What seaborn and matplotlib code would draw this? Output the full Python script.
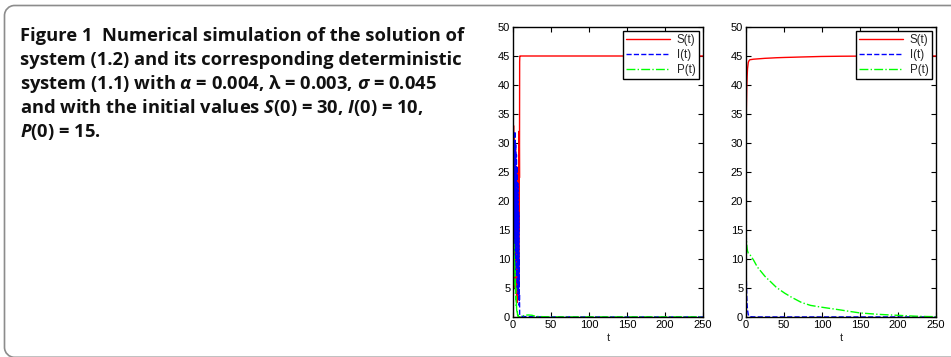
import matplotlib
matplotlib.use("Agg")
import matplotlib.pyplot as plt
import matplotlib.patches as mpatches
from matplotlib.path import Path
from matplotlib.transforms import IdentityTransform
import seaborn as sns

# left panel: stochastic system (1.2)
t_sto = [0, 0.25, 0.5, 0.75, 1.0, 1.25, 1.5, 1.75, 2.0, 2.25, 2.5, 2.75, 3.0,
         3.25, 3.5, 3.75, 4.0, 4.25, 4.5, 4.75, 5.0, 5.25, 5.5, 5.75, 6.0,
         6.25, 6.5, 6.75, 7.0, 7.25, 7.5, 7.75, 8.0, 8.25, 8.5, 8.75, 9.0,
         10, 12, 15, 20, 25, 30, 40, 50, 100, 150, 200, 250]
S_sto = [30, 35.8, 22, 33, 12, 28, 8, 31, 18, 26, 5, 24, 14,
         29, 9, 21, 4, 19, 11, 25, 3, 16, 2.5, 13, 7,
         20, 4, 17, 10, 26, 6, 32, 15, 31, 24, 44, 45,
         45, 45, 45, 45, 45, 45, 45, 45, 45, 45, 45, 45]
I_sto = [10, 18, 6, 24, 14, 29, 9, 22, 30, 12, 32, 19, 27,
         8, 30, 16, 25, 11, 28, 7, 22, 15, 26, 5, 19,
         12, 23, 4, 16, 9, 18, 3, 10, 2, 4, 0.5, 0.3,
         0.2, 0.1, 0.08, 0.05, 0.04, 0.03, 0.02, 0.02, 0.01, 0.01, 0.01, 0.01]
P_sto = [15, 13.5, 14, 11, 12.5, 9, 10.5, 8, 9.5, 7, 8, 5.5, 6.5,
         4, 5, 3, 3.5, 2, 2.5, 1.5, 1, 1.2, 0.6, 0.8, 0.3,
         0.4, 0.2, 0.25, 0.1, 0.15, 0.1, 0.08, 0.05, 0.06, 0.05, 0.04, 0.04,
         0.05, 0.1, 0.3, 0.35, 0.3, 0.1, 0.05, 0.02, 0.02, 0.02, 0.02, 0.02]

# right panel: deterministic system (1.1)
t_det = [0, 0.5, 1, 1.5, 2, 3, 4, 5, 10, 15, 20, 25, 33, 40, 51, 60, 73,
         85, 99, 112, 125, 137, 150, 162, 174, 187, 200, 213, 227, 238, 250]
S_det = [30, 36, 39.5, 41.5, 42.8, 43.9, 44.2, 44.35, 44.45, 44.5, 44.55, 44.6,
         44.65, 44.7, 44.75, 44.78, 44.83, 44.87, 44.92, 44.94, 44.96, 44.97,
         44.98, 44.99, 45, 45, 45, 45, 45, 45, 45]
I_det = [10, 6, 3.5, 2, 1.2, 0.4, 0.15, 0.05, 0.02, 0.01, 0.01, 0.01, 0.01,
         0.01, 0.01, 0.01, 0.01, 0.01, 0.01, 0.01, 0.01, 0.01, 0.01, 0.01,
         0.01, 0.01, 0.01, 0.01, 0.01, 0.01, 0.01]
P_det = [15, 13.5, 12.5, 11.8, 11.4, 11.0, 10.9, 10.8, 9.8, 8.6, 7.8, 7.0, 6.0,
         5.1, 4.1, 3.4, 2.5, 2.0, 1.7, 1.45, 1.2, 0.95, 0.7, 0.58, 0.46, 0.37,
         0.29, 0.2, 0.12, 0.08, 0.06]

labels = ["S(t)", "I(t)", "P(t)"]
colors = ["#ff0000", "#0000ff", "#00ff00"]
styles = ["-", "--", "-."]
x_ticks = [0, 50, 100, 150, 200, 250]
y_ticks = [0, 5, 10, 15, 20, 25, 30, 35, 40, 45, 50]

caption = [
    "Figure 1  Numerical simulation of the solution of",
    "system (1.2) and its corresponding deterministic",
    r"system (1.1) with $\alpha$ = 0.004, λ = 0.003, $\sigma$ = 0.045",
    r"and with the initial values $S$(0) = 30, $I$(0) = 10,",
    r"$P$(0) = 15.",
]

sns.set_style("ticks")
plt.rcParams["font.family"] = ["Liberation Sans", "DejaVu Sans"]
plt.rcParams["mathtext.fontset"] = "custom"
plt.rcParams["mathtext.rm"] = "Open Sans:bold"
plt.rcParams["mathtext.it"] = "Open Sans:italic:bold"
plt.rcParams["mathtext.bf"] = "Open Sans:bold"

W, H = 951, 357
fig = plt.figure(figsize=(W / 100, H / 100), dpi=100)

# caption frame: open on the right, rounded on the left corners
top, bot, left, r = H - 5.5, -0.3, 4.5, 10
k = 0.5523 * r
verts = [(W + 20, top), (left + r, top),
         (left + r - k, top), (left, top - r + k), (left, top - r),
         (left, bot + r),
         (left, bot + r - k), (left + r - k, bot), (left + r, bot),
         (W + 20, bot)]
codes = [Path.MOVETO, Path.LINETO,
         Path.CURVE4, Path.CURVE4, Path.CURVE4,
         Path.LINETO,
         Path.CURVE4, Path.CURVE4, Path.CURVE4,
         Path.LINETO]
frame = mpatches.PathPatch(Path(verts, codes), transform=IdentityTransform(),
                           fill=False, edgecolor="#8c8c8c", linewidth=1.2)
fig.patches.append(frame)

base_y = [41, 65, 89, 113, 137]
for line, yb in zip(caption, base_y):
    fig.text(20 / W, 1 - yb / H, line, fontsize=13.2, fontweight="bold",
             family="Open Sans", va="baseline", ha="left", color="#111111")

panels = [
    (513, t_sto, [S_sto, I_sto, P_sto]),
    (746, t_det, [S_det, I_det, P_det]),
]
for x0, t, series in panels:
    ax = fig.add_axes([x0 / W, 40 / H, 190 / W, 290 / H])
    for vals, lab, col, ls in zip(series, labels, colors, styles):
        sns.lineplot(x=t, y=vals, ax=ax, color=col, linestyle=ls,
                     linewidth=1.0, label=lab, estimator=None)
    ax.set_xlim(0, 250)
    ax.set_ylim(0, 50)
    ax.set_xticks(x_ticks)
    ax.set_yticks(y_ticks)
    ax.tick_params(direction="in", top=True, right=True, length=3.5,
                   width=0.8, labelsize=8, pad=2, colors="black")
    for sp in ax.spines.values():
        sp.set_visible(True)
        sp.set_color("black")
        sp.set_linewidth(1.0)
    ax.set_xlabel("t", fontsize=8, labelpad=2)
    ax.set_ylabel("")
    leg = ax.legend(loc="upper right", fontsize=8.3, handlelength=3.8,
                    handletextpad=0.6, borderaxespad=0.35, fancybox=False,
                    framealpha=1, edgecolor="black", labelspacing=0.22,
                    borderpad=0.3)
    leg.get_frame().set_linewidth(1.0)

fig.savefig("out.png", dpi=100)
